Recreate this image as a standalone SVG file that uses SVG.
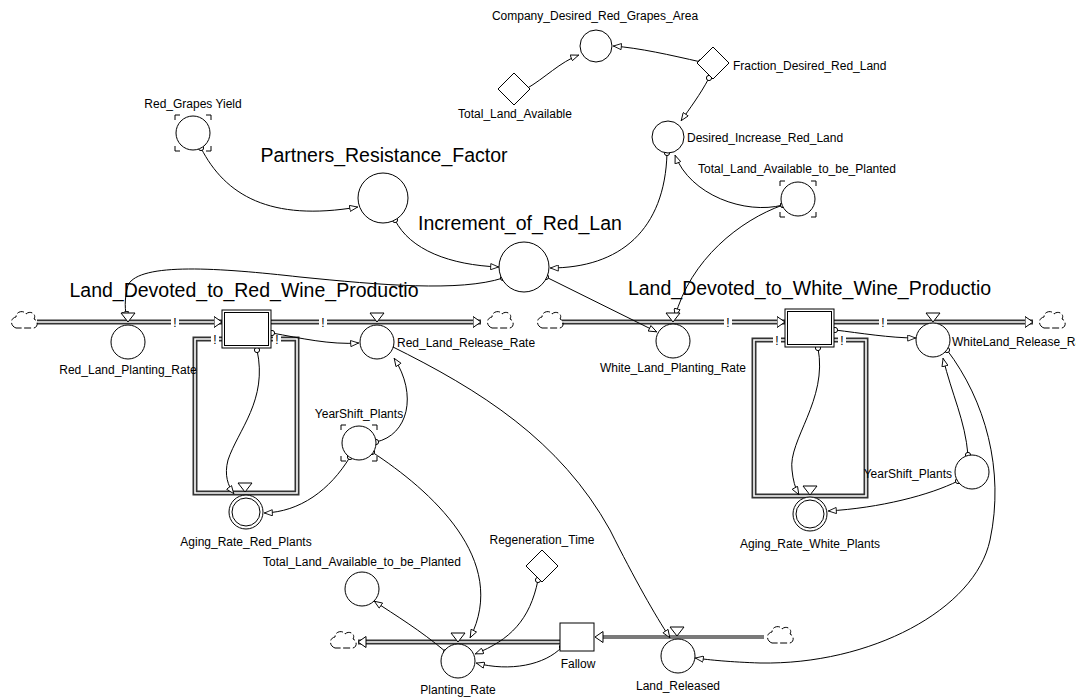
<svg xmlns="http://www.w3.org/2000/svg" xmlns:xlink="http://www.w3.org/1999/xlink" width="1076" height="698" viewBox="0 0 1076 698">
<style>
text{font-family:"Liberation Sans",Arial,sans-serif;fill:#000}
.s{font-size:12px}
.b{font-size:19.5px}
.m{text-anchor:middle}
.c{fill:#fff;stroke:#000;stroke-width:1}
.con{fill:none;stroke:#000;stroke-width:1;marker-start:url(#o);marker-end:url(#a)}
.po{fill:none;stroke:#333;stroke-width:5}
.pi{fill:none;stroke:#fff;stroke-width:1.6}
.pg{fill:none;stroke:#7a7a7a;stroke-width:4}
.tri{fill:#fff;stroke:#000;stroke-width:1}
.br{fill:none;stroke:#000;stroke-width:1}
.cl{fill:none;stroke:#000;stroke-width:1;stroke-dasharray:7 2.5}
.bang{fill:#fff;stroke:none}
</style>
<defs>
<marker id="a" viewBox="0 0 10 8" refX="10" refY="4" markerWidth="9" markerHeight="7" markerUnits="userSpaceOnUse" orient="auto"><path d="M0.5,0.5 L9.5,4 L0.5,7.5 Z" fill="#fff" stroke="#000" stroke-width="1"/></marker>
<marker id="o" viewBox="-4 -4 8 8" refX="0" refY="0" markerWidth="8" markerHeight="8" markerUnits="userSpaceOnUse"><circle r="2.6" fill="#fff" stroke="#000" stroke-width="1"/></marker>
<marker id="pa" viewBox="0 0 9 12" refX="8.5" refY="6" markerWidth="9" markerHeight="12" markerUnits="userSpaceOnUse" orient="auto"><path d="M0.5,0.5 L8.5,6 L0.5,11.5 Z" fill="#fff" stroke="#000" stroke-width="1"/></marker>
<path id="cloud" d="M-8,8 C-14,6 -14,-2 -8,-3 C-8,-9 0,-10 2,-6 C6,-10 13,-6 10,-1 C15,1 14,9 8,8 Z"/>
</defs>

<g id="pipes">
<path class="po" d="M37,322 L222,322"/><path class="pi" marker-end="url(#pa)" d="M37,322 L222,322"/>
<path class="po" d="M271,322 L481,322"/><path class="pi" marker-end="url(#pa)" d="M271,322 L481,322"/>
<path class="po" d="M562,322 L785,322"/><path class="pi" marker-end="url(#pa)" d="M562,322 L785,322"/>
<path class="po" d="M834,322 L1033,322"/><path class="pi" marker-end="url(#pa)" d="M834,322 L1033,322"/>
<path class="po" d="M222,339 L195,339 L195,493 L297,493 L297,339 L271,339"/><path class="pi" d="M222,339 L195,339 L195,493 L297,493 L297,339 L271,339"/>
<path class="po" d="M785,340 L754,340 L754,496 L866,496 L866,340 L834,340"/><path class="pi" d="M785,340 L754,340 L754,496 L866,496 L866,340 L834,340"/>
<path class="po" d="M560,642 L358,642"/><path class="pi" marker-end="url(#pa)" d="M560,642 L358,642"/>
<path class="pg" d="M764,637 L600,637"/><path class="pi" style="stroke:none" marker-end="url(#pa)" d="M764,637 L595,637"/>
<g id="bangs">
<rect class="bang" x="171" y="316" width="8" height="12"/><text class="s m" x="175" y="327">!</text>
<rect class="bang" x="319" y="316" width="8" height="12"/><text class="s m" x="323" y="327">!</text>
<rect class="bang" x="724" y="316" width="8" height="12"/><text class="s m" x="728" y="327">!</text>
<rect class="bang" x="879" y="316" width="8" height="12"/><text class="s m" x="883" y="327">!</text>
<rect class="bang" x="211" y="333" width="8" height="12"/><text class="s m" x="215" y="344">!</text>
<rect class="bang" x="273" y="333" width="8" height="12"/><text class="s m" x="277" y="344">!</text>
<rect class="bang" x="773" y="334" width="8" height="12"/><text class="s m" x="777" y="345">!</text>
<rect class="bang" x="838" y="334" width="8" height="12"/><text class="s m" x="842" y="345">!</text>
</g>
<use href="#cloud" class="cl" x="24" y="320"/>
<use href="#cloud" class="cl" x="500" y="320"/>
<use href="#cloud" class="cl" x="550" y="320"/>
<use href="#cloud" class="cl" x="1052" y="320"/>
<use href="#cloud" class="cl" x="343" y="640"/>
<use href="#cloud" class="cl" x="780" y="635"/>
</g>

<g id="connectors">
<path class="con" d="M526,89 C545,78 560,62 579,55"/>
<path class="con" d="M701,62 C670,55 640,48 613,46"/>
<path class="con" d="M709,78 C700,95 690,108 681,121"/>
<path class="con" d="M783,205 C745,215 690,195 675,155"/>
<path class="con" d="M667,153 C665,230 620,268 550,268"/>
<path class="con" d="M783,205 C740,220 690,260 675,317"/>
<path class="con" d="M201,148 C225,195 270,222 358,207"/>
<path class="con" d="M395,220 C410,250 450,265 499,267"/>
<path class="con" d="M503,278 C460,292 380,285 300,277 C220,268 140,262 128,285 C124,300 125,310 127,320"/>
<path class="con" d="M546,277 L657,332"/>
<path class="con" d="M272,333 C300,338 330,345 359,343"/>
<path class="con" d="M257,350 C268,400 238,430 228,460 C224,475 228,486 234,494"/>
<path class="con" d="M376,442 C408,435 418,395 394,358"/>
<path class="con" d="M350,457 C330,490 300,512 264,513"/>
<path class="con" d="M372,452 C430,490 510,560 470,638"/>
<path class="con" d="M391,346 C480,390 560,440 610,530 C635,580 655,615 670,638"/>
<path class="con" d="M835,330 C860,333 890,338 916,338"/>
<path class="con" d="M818,348 C828,400 788,440 792,470 C793,480 795,488 799,495"/>
<path class="con" d="M968,455 C965,420 952,395 943,358"/>
<path class="con" d="M958,481 C930,495 880,508 828,511"/>
<path class="con" d="M947,350 C985,400 1005,470 990,540 C975,610 870,665 760,663 C730,662 710,660 695,658"/>
<path class="con" d="M446,652 C420,630 395,615 374,601"/>
<path class="con" d="M538,580 C530,620 510,640 475,654"/>
<path class="con" d="M562,647 C545,665 510,672 476,663"/>
</g>

<g id="Company_Desired_Red_Grapes_Area">
<circle class="c" cx="596" cy="46" r="16"/>
<text class="s m" x="595" y="20">Company_Desired_Red_Grapes_Area</text>
</g>
<g id="Total_Land_Available">
<polygon class="c" points="514,73 530,89 514,105 498,89"/>
<text class="s m" x="515" y="118">Total_Land_Available</text>
</g>
<g id="Fraction_Desired_Red_Land">
<polygon class="c" points="713,47 729,63 713,79 697,63"/>
<text class="s" x="733" y="70">Fraction_Desired_Red_Land</text>
</g>
<g id="Desired_Increase_Red_Land">
<circle class="c" cx="668" cy="137" r="16"/>
<text class="s" x="687" y="142">Desired_Increase_Red_Land</text>
</g>
<g id="Total_Land_Available_to_be_Planted_top">
<circle class="c" cx="798" cy="199" r="17"/>
<path class="br" d="M780,186 V181 H785 M811,181 H816 V186 M816,212 V217 H811 M785,217 H780 V212"/>
<text class="s m" x="797" y="173">Total_Land_Available_to_be_Planted</text>
</g>
<g id="Red_Grapes_Yield">
<circle class="c" cx="193" cy="133" r="17"/>
<path class="br" d="M175,120 V115 H180 M206,115 H211 V120 M211,146 V151 H206 M180,151 H175 V146"/>
<text class="s m" x="193" y="108">Red_Grapes Yield</text>
</g>
<g id="Partners_Resistance_Factor">
<circle class="c" cx="383" cy="198" r="25"/>
<text class="b m" x="384" y="162">Partners_Resistance_Factor</text>
</g>
<g id="Increment_of_Red_Lan">
<circle class="c" cx="524" cy="267" r="25"/>
<text class="b m" x="520" y="230">Increment_of_Red_Lan</text>
</g>
<g id="Land_Devoted_to_Red_Wine_Productio">
<rect class="c" x="222" y="310" width="49" height="38"/>
<rect class="c" x="224.5" y="312.5" width="44" height="33"/>
<text class="b m" x="244" y="297">Land_Devoted_to_Red_Wine_Productio</text>
</g>
<g id="Land_Devoted_to_White_Wine_Productio">
<rect class="c" x="785" y="309" width="49" height="38"/>
<rect class="c" x="787.5" y="311.5" width="44" height="33"/>
<text class="b m" x="809.5" y="295">Land_Devoted_to_White_Wine_Productio</text>
</g>
<g id="Red_Land_Planting_Rate">
<polygon class="tri" points="121,313 135,313 128,322"/>
<circle class="c" cx="128" cy="342" r="17"/>
<text class="s m" x="128" y="374">Red_Land_Planting_Rate</text>
</g>
<g id="Red_Land_Release_Rate">
<polygon class="tri" points="370,313 384,313 377,322"/>
<circle class="c" cx="377" cy="342" r="17"/>
<text class="s" x="397" y="347">Red_Land_Release_Rate</text>
</g>
<g id="White_Land_Planting_Rate">
<polygon class="tri" points="666,313 680,313 673,322"/>
<circle class="c" cx="673" cy="341" r="17"/>
<text class="s m" x="673" y="372">White_Land_Planting_Rate</text>
</g>
<g id="WhiteLand_Release_Rate">
<polygon class="tri" points="926,313 940,313 933,322"/>
<circle class="c" cx="933" cy="340" r="17"/>
<text class="s" x="952" y="346">WhiteLand_Release_Rate</text>
</g>
<g id="Aging_Rate_Red_Plants">
<polygon class="tri" points="238,483 252,483 245,492"/>
<circle class="c" cx="246" cy="512" r="17"/>
<circle class="c" cx="246" cy="512" r="14"/>
<text class="s m" x="246" y="546">Aging_Rate_Red_Plants</text>
</g>
<g id="Aging_Rate_White_Plants">
<polygon class="tri" points="803,486 817,486 810,495"/>
<circle class="c" cx="810" cy="514" r="17"/>
<circle class="c" cx="810" cy="514" r="14"/>
<text class="s m" x="810" y="548">Aging_Rate_White_Plants</text>
</g>
<g id="YearShift_Plants_Red">
<circle class="c" cx="359" cy="443" r="17"/>
<path class="br" d="M341,430 V425 H346 M372,425 H377 V430 M377,456 V461 H372 M346,461 H341 V456"/>
<text class="s m" x="359" y="418">YearShift_Plants</text>
</g>
<g id="YearShift_Plants_White">
<circle class="c" cx="972" cy="472" r="17"/>
<text class="s" x="952" y="478" text-anchor="end">YearShift_Plants</text>
</g>
<g id="Total_Land_Available_to_be_Planted_bottom">
<circle class="c" cx="362" cy="589" r="17"/>
<text class="s m" x="362" y="566">Total_Land_Available_to_be_Planted</text>
</g>
<g id="Regeneration_Time">
<polygon class="c" points="542,550 558,566 542,582 526,566"/>
<text class="s m" x="542" y="544">Regeneration_Time</text>
</g>
<g id="Planting_Rate">
<polygon class="tri" points="451,633 465,633 458,642"/>
<circle class="c" cx="458" cy="661" r="17"/>
<text class="s m" x="458" y="694">Planting_Rate</text>
</g>
<g id="Fallow">
<rect class="c" x="560" y="623" width="34" height="28"/>
<text class="s m" x="578" y="668">Fallow</text>
</g>
<g id="Land_Released">
<polygon class="tri" points="670,627 684,627 677,636"/>
<circle class="c" cx="678" cy="656" r="17"/>
<text class="s m" x="678" y="690">Land_Released</text>
</g>
</svg>
